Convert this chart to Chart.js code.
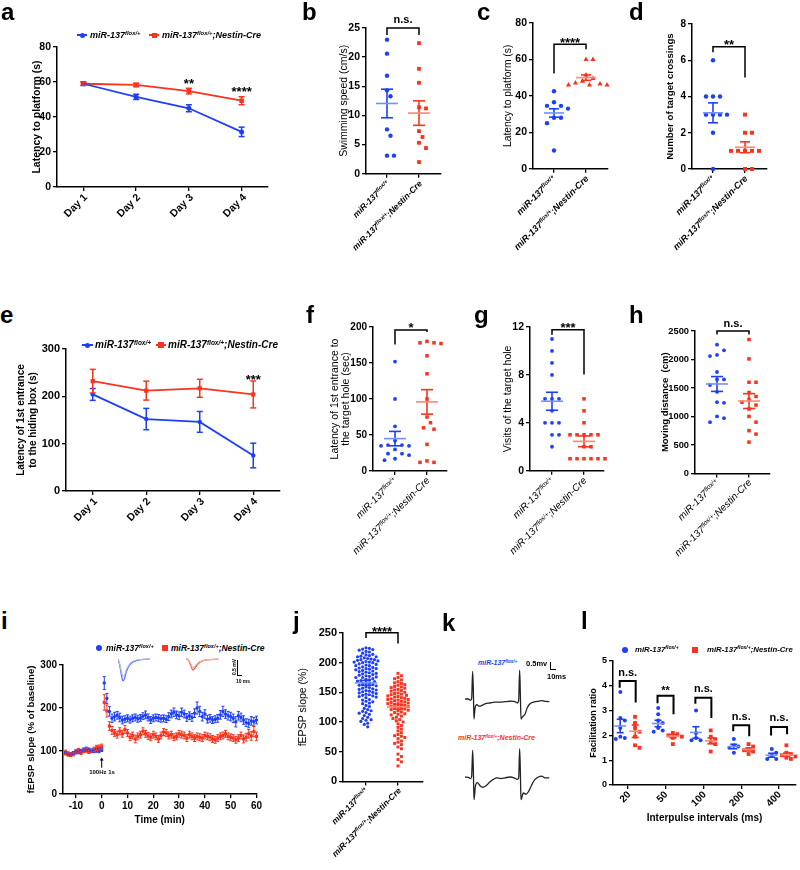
<!DOCTYPE html>
<html>
<head>
<meta charset="utf-8">
<script src="https://cdn.jsdelivr.net/npm/chart.js@4.4.1/dist/chart.umd.min.js"></script>
<style>
html,body{margin:0;padding:0;background:#fff}
body{position:relative;width:800px;height:870px;overflow:hidden;font-family:"Liberation Sans",Arial,sans-serif;color:#000}
canvas{position:absolute}
.t{position:absolute;white-space:nowrap;line-height:1}
.rot{position:absolute;white-space:nowrap;transform:rotate(-45deg);transform-origin:100% 50%}
.bx{position:absolute}
sup{font-size:65%;vertical-align:baseline;position:relative;top:-0.5em;line-height:0}
</style>
</head>
<body>
<script>
const BLUE = '#1e3ff7', BLUE_M = '#7390ff', RED = '#f7341f', RED_M = '#ff8775';
const FONT = '"Liberation Sans", Arial, sans-serif';

// ---------- data ----------
const groupNames = ['miR-137^flox/+^', 'miR-137^flox/+^;Nestin-Cre'];
const days = ['Day 1', 'Day 2', 'Day 3', 'Day 4'];

// a: latency to platform
const aCtrl = [59, 51.5, 45, 31.5];
const aCtrlSem = [1, 1.5, 2, 2.7];
const aCre = [59, 58.3, 54.8, 49.3];
const aCreSem = [0.8, 1, 1.6, 2.3];

// b: swimming speed
const bCtrl = [23, 20.6, 16.8, 14.3, 13.3, 7.6, 6.5, 3.1, 3.1];
const bCre = [22.4, 18, 15.6, 11.4, 11.2, 7.3, 6.3, 5.3, 4.4, 2];
const bMean = [12.05, 10.4], bSem = [2.45, 2.1];

// c: probe latency
const cCtrl = [42.5, 36.5, 34.5, 34.5, 33, 28, 28, 25, 10];
const cCre = [60, 60, 51.5, 49.5, 48, 47, 46.5, 46, 46, 46];
const cMean = [30.6, 50], cSem = [2.3, 1.5];

// d: target crossings
const dCtrl = [6, 4, 4, 4, 3, 3, 3, 3, 2, 0];
const dCre = [3, 2, 2, 1, 1, 1, 1, 1, 0, 0];
const dMean = [3.1, 1.2], dSem = [0.55, 0.3];

// e: barnes maze latency
const eCtrl = [204, 152, 146, 75];
const eCtrlSem = [12.5, 22.5, 22, 26];
const eCre = [232, 212, 217, 204];
const eCreSem = [25, 20, 19, 28.5];

// f: latency to target hole
const fCtrl = [152, 100, 62, 42, 36, 36, 35, 35, 30, 24, 24, 22, 17, 15];
const fCre = [180, 178, 177, 178, 160, 135, 100, 75, 67, 60, 58, 37, 14, 12, 12];
const fMean = [45, 96], fSem = [10, 17];

// g: visits of target hole
const gCtrl = [11, 10, 9, 8, 6, 6, 6, 5, 4, 4, 4, 3, 3, 2];
const gCre = [6, 5, 4, 3, 3, 3, 3, 3, 2, 2, 1, 1, 1, 1, 1, 1];
const gMean = [5.8, 2.45], gSem = [0.75, 0.45];

// h: moving distance
const hCtrl = [2260, 2160, 2080, 2060, 1780, 1650, 1650, 1550, 1430, 1250, 1240, 1000, 970, 900];
const hCre = [2350, 2010, 1600, 1600, 1420, 1350, 1300, 1250, 1200, 1130, 1000, 900, 750, 690, 550];
const hMean = [1570, 1270], hSem = [130, 130];

// i: LTP time course
const iTime = [-14,-13,-12,-11,-10,-9,-8,-7,-6,-5,-4,-3,-2,-1,0,
  1,2,3,4,5,6,7,8,9,10,11,12,13,14,15,16,17,18,19,20,21,22,23,24,25,26,27,28,29,30,
  31,32,33,34,35,36,37,38,39,40,41,42,43,44,45,46,47,48,49,50,51,52,53,54,55,56,57,58,59,60];
const iCtrl = [95,94,93,95,97,98,100,103,104,103,101,100,102,101,103,
  258,222,192,176,180,183,178,172,174,176,173,176,178,175,177,181,184,178,172,176,
  178,177,175,176,174,180,186,190,184,182,190,186,178,182,178,188,200,192,180,186,
  174,176,172,174,176,184,192,186,182,180,176,168,182,178,172,166,164,170,168,172];
const iCtrlSem = [4,4,3,4,4,4,4,4,5,4,4,4,5,5,4,
  15,12,11,10,10,9,10,9,8,8,8,8,8,8,8,8,9,8,8,8,
  8,8,8,8,8,9,9,10,9,9,10,9,9,9,9,10,14,12,10,10,
  9,9,8,8,9,10,12,10,10,10,10,12,10,10,10,9,10,10,10,9];
const iCre = [97,92,91,93,99,101,96,100,102,98,100,104,107,108,110,
  213,193,158,148,142,138,146,140,150,142,132,136,128,134,138,146,140,135,132,138,
  134,128,136,144,142,136,138,132,134,140,138,136,130,138,134,130,134,132,130,136,
  134,132,128,126,130,134,136,140,134,132,130,126,130,136,128,132,140,135,145,134];
const iCreSem = [5,4,4,4,5,5,4,4,5,4,4,5,6,6,6,
  18,14,10,9,8,8,8,8,9,8,8,8,9,8,8,8,8,8,8,8,
  8,8,8,8,8,8,8,8,8,8,8,8,8,8,8,8,8,8,8,8,
  8,8,8,8,8,8,8,8,8,8,8,8,8,8,9,9,10,10,12,10];
// i insets: representative fEPSP traces (ms, mV)
const insCtrlT = [0, 3.4, 6.8, 10, 13.4, 16.8, 23.4, 30, 40, 63.4];
const insCtrl = [0, -0.19, -0.51, -0.7, -0.61, -0.4, -0.19, -0.09, -0.03, 0];
const insCtrlPre = [0, -0.15, -0.4, -0.55, -0.5, -0.33, -0.15, -0.07, -0.02, 0];
const insCreT = [0, 4.6, 9.4, 13.4, 18, 24.6, 34.6, 64.6];
const insCre = [0.02, -0.03, -0.19, -0.35, -0.28, -0.14, -0.05, 0];
const insCrePre = [0.02, -0.02, -0.14, -0.27, -0.22, -0.11, -0.04, 0];

// j: fEPSP slope per slice
const jCtrl = [225,223,224,221,222,219,218,216, 214,213,211,212,210,210,
  208,207,206,205,205,204,203,202,201,201,200,200, 198,197,196,195,195,193,192,191,190,190,
  189,188,187,186,185,184,183,182,181,180, 179,178,177,176,175,175,173,172,171,170,
  169,168,166,165,164,163,162,161, 159,158,157,156,155,154,153,152,151,150,
  149,148,147,146,145,144,143,142,141, 138,137,135,134,132,131, 128,126,123,121,
  119,118,116,115,113,111, 108,106,104,103,101, 98,96,92];
const jCre = [182,178,175,173,171, 168,166,165,163,162,160, 159,158,157,155,154,153,152,150,
  149,148,147,146,145,144,143,142,141,140, 139,138,138,137,136,135,134,133,132,131,131,130,
  129,128,127,126,125,124,123,122,121,120, 119,117,116,114,113,112,110, 108,106,104,102,100,
  97,94,91, 88,85,82, 79,77,76,74,72, 68,66,64,62, 58,55, 46,42, 37,33, 26];
const jMean = [166, 125.5], jSem = [4, 4];

// k: paired-pulse traces (ms, mV)
const kCtrlT = [0,3.7,6.4,7.5,8.6,9.4,10.1,11.2,13.1,16.1,19.1,22.5,28.1,33.7,39.3,44.9,48.7,52.4,56.2,58.8,60.3,61.4,62.2,62.9,64.8,67.4,70,73,76.8,81.3,86.1,91,94.7];
const kCtrlV = [0,0,-0.08,0.06,1.73,0.5,-1.25,-0.6,-0.35,-0.45,-0.4,-0.3,-0.25,-0.2,-0.2,-0.17,-0.15,-0.13,-0.17,-0.25,-0.1,1.8,0.3,-1.25,-1.1,-0.95,-0.55,-0.3,-0.2,-0.15,-0.1,-0.15,-0.17];
const kCreT = [0,3.7,6.4,7.5,8.6,9.4,10.1,11.6,13.9,16.9,19.9,23.6,28.1,31.8,35.6,40.1,44.9,50.6,55.1,58.8,60.3,61.4,62.2,62.9,65.5,68.5,71.5,74.9,78.6,82.4,86.1,89.9,94.7];
const kCreV = [0,-0.02,-0.1,0.05,1.67,0.4,-1.42,-0.6,-0.35,-0.55,-0.65,-0.55,-0.3,-0.15,-0.05,-0.1,-0.05,0,-0.05,-0.15,-0.05,1.77,0.3,-1.42,-1.0,-1.08,-0.9,-0.5,-0.15,0,0.05,-0.05,-0.05];

// l: paired-pulse facilitation
const lIntervals = ['20', '50', '100', '200', '400'];
const lCtrl = [[3.75, 2.7, 2.6, 2.3, 1.95, 1.85, 1.9], [3.1, 2.85, 2.6, 2.5, 2.3, 2.2, 2.15],
  [3.0, 2.1, 1.9, 1.8, 1.8], [1.85, 1.6, 1.55, 1.5, 1.3], [1.45, 1.3, 1.2, 1.05, 1.05]];
const lCre = [[2.75, 2.5, 2.3, 2.15, 1.95, 1.6, 1.5], [2.1, 2.05, 2.0, 1.95, 1.9, 1.65],
  [2.2, 1.95, 1.85, 1.75, 1.65, 1.35], [1.65, 1.55, 1.45, 1.4, 1.35, 1.25], [1.6, 1.3, 1.25, 1.2, 1.15, 1.1, 1.05]];
const lCtrlMean = [2.38, 2.48, 2.12, 1.55, 1.2], lCtrlSem = [0.27, 0.13, 0.23, 0.09, 0.08];
const lCreMean = [2.17, 1.97, 1.78, 1.43, 1.22], lCreSem = [0.25, 0.07, 0.12, 0.06, 0.07];
const lSig = ['n.s.', '**', 'n.s.', 'n.s.', 'n.s.'];

// ---------- helpers ----------
Chart.defaults.font.family = FONT;
Chart.defaults.color = '#000';
Chart.defaults.animation = false;
Chart.defaults.responsive = false;
Chart.defaults.devicePixelRatio = 1;
Chart.defaults.events = [];
Chart.defaults.plugins.legend.display = false;
Chart.defaults.plugins.tooltip.enabled = false;

const rich = s => s.replace(/\^([^^]*)\^/g, '<sup>$1</sup>');

function text(html, x, y, font, color, center) {
  const d = document.createElement('div');
  d.className = 't';
  d.innerHTML = rich(html);
  d.style.font = font;
  d.style.lineHeight = '1';
  d.style.left = x + 'px';
  d.style.top = y + 'px';
  d.style.color = color || '#000';
  d.style.transform = center ? 'translate(-50%,-50%)' : 'translate(0,-50%)';
  document.body.appendChild(d);
  return d;
}
function rotText(t, ax, ay, font, color) {
  const d = document.createElement('div');
  d.className = 'rot';
  d.innerHTML = rich(t);
  d.style.font = font;
  d.style.lineHeight = '12px';
  d.style.height = '12px';
  d.style.right = (800 - ax) + 'px';
  d.style.top = (ay - 6) + 'px';
  if (color) d.style.color = color;
  document.body.appendChild(d);
}
function box(x, y, w, h, color) {
  const d = document.createElement('div');
  d.className = 'bx';
  Object.assign(d.style, {left: x + 'px', top: y + 'px', width: w + 'px', height: h + 'px', background: color});
  document.body.appendChild(d);
  return d;
}
function legend(y, items, font) {
  items.forEach(it => {
    if (it.line) box(it.line[0], y - 0.9, it.line[1] - it.line[0], 1.8, it.color);
    const m = box(it.mx - it.size / 2, y - it.size / 2, it.size, it.size, it.color);
    if (it.shape === 'circle') m.style.borderRadius = '50%';
    text(it.text, it.tx, y, font);
  });
}

function seg(ctx, xa, ya, xb, yb) { ctx.beginPath(); ctx.moveTo(xa, ya); ctx.lineTo(xb, yb); ctx.stroke(); }
function errBar(ctx, X, ylo, yhi, cw) {
  seg(ctx, X, ylo, X, yhi); seg(ctx, X - cw, ylo, X + cw, ylo); seg(ctx, X - cw, yhi, X + cw, yhi);
}
function mark(ctx, txt, x, yc, size) {
  ctx.fillStyle = '#000';
  ctx.font = 'bold ' + size + 'px ' + FONT;
  ctx.textAlign = 'center';
  ctx.textBaseline = 'alphabetic';
  ctx.fillText(txt, x, yc + (txt.includes('*') ? 0.58 : 0.27) * size);
}

function axisBase() {
  return {
    border: {color: '#000', width: 1.5},
    grid: {drawOnChartArea: false, offset: false, color: '#000', lineWidth: 1.3, tickLength: 4},
  };
}
function yAxis(min, max, step, size) {
  return Object.assign(axisBase(), {
    type: 'linear', min, max,
    afterBuildTicks: s => { const t = []; for (let v = min; v <= max + 1e-9; v += step) t.push({value: v}); s.ticks = t; },
    ticks: {color: '#000', font: {family: FONT, weight: 'bold', size}, padding: 2, callback: v => String(v)},
  });
}

function mkChart(s) {
  const [x0, x1, y0, y1] = s.box, [ml, mr, mt, mb] = s.m;
  const L = x0 - ml, T = y0 - mt;
  const cv = document.createElement('canvas');
  cv.width = x1 - x0 + ml + mr;
  cv.height = y1 - y0 + mt + mb;
  cv.style.left = L + 'px';
  cv.style.top = T + 'px';
  document.body.appendChild(cv);
  s.x.afterFit = sc => { sc.height = mb; };
  s.y.afterFit = sc => { sc.width = ml; };
  if (s.yTitle) {
    const f = s.yTitle.font;
    s.y.title = {display: true, text: s.yTitle.text, color: '#000', font: f,
      padding: {top: s.yTitle.x - L - f.size * f.lineHeight / 2, bottom: 0}};
  }
  if (s.xTitle) {
    const f = s.xTitle.font;
    s.x.title = {display: true, text: s.xTitle.text, color: '#000', font: f,
      padding: {top: 0, bottom: T + cv.height - s.xTitle.y - f.size * f.lineHeight / 2}};
  }
  const ch = new Chart(cv, {
    type: s.type || 'scatter',
    data: {labels: s.labels, datasets: s.datasets},
    options: {layout: {padding: {left: 0, right: mr, top: mt, bottom: 0}}, scales: {x: s.x, y: s.y}},
    plugins: [{id: 'extra', afterDatasetsDraw: c => { if (s.draw) { c.ctx.save(); s.draw(c, c.ctx); c.ctx.restore(); } }}]
  });
  ch.$L = L; ch.$T = T;
  return ch;
}

// simple beeswarm: spreads equal/near values sideways (pixel units)
function swarm(vals, d, pyu) {
  const order = vals.map((v, i) => i).sort((a, b) => vals[b] - vals[a]);
  const placed = [], off = [];
  order.forEach(i => {
    const py = vals[i] * pyu;
    for (let k = 0; k < 80; k++) {
      const o = (k % 2 ? 1 : -1) * Math.ceil(k / 2) * d / 2;
      if (placed.every(q => Math.hypot(q[0] - o, q[1] - py) >= d * 0.98)) { placed.push([o, py]); off[i] = o; break; }
    }
  });
  return off;
}

function dotPanel(p) {
  const [x0, x1, y0, y1] = p.box;
  const unit = (p.cx[p.cx.length - 1] - p.cx[0]) / (p.cx.length - 1);
  const pyu = (y1 - y0) / (p.y[1] - p.y[0]);
  const datasets = p.groups.map(g => {
    const off = swarm(g.vals, g.d, pyu);
    return {data: g.vals.map((v, i) => ({x: g.cat + ((g.dx || 0) + off[i]) / unit, y: v})),
      pointStyle: g.shape, pointRadius: g.r, backgroundColor: g.color, pointBorderWidth: 0, clip: false};
  });
  const cats = p.cx.map((c, i) => i);
  const ch = mkChart({box: p.box, m: p.m, datasets, yTitle: p.yTitle, xTitle: p.xTitle,
    x: Object.assign(axisBase(), {type: 'linear', min: (x0 - p.cx[0]) / unit, max: (x1 - p.cx[0]) / unit,
      afterBuildTicks: s => { s.ticks = cats.map(v => ({value: v})); }, ticks: {display: false}}),
    y: yAxis(p.y[0], p.y[1], p.y[2], p.tick),
    draw: (c, ctx) => {
      const X = v => c.scales.x.getPixelForValue(v), Y = v => c.scales.y.getPixelForValue(v);
      p.groups.forEach(g => {
        const xc = X(g.cat) + (g.dx || 0);
        ctx.lineWidth = 1.6;
        ctx.strokeStyle = g.color;
        errBar(ctx, xc, Y(g.mean - g.sem), Y(g.mean + g.sem), g.cw);
        ctx.strokeStyle = g.mcolor;
        seg(ctx, xc - g.hw, Y(g.mean), xc + g.hw, Y(g.mean));
      });
      (p.brackets || []).forEach(b => {
        const xa = X(b.ca) + (b.oa || 0), xb = X(b.cb) + (b.ob || 0);
        ctx.strokeStyle = '#000';
        ctx.lineWidth = b.lw || 1.5;
        ctx.beginPath(); ctx.moveTo(xa, Y(b.ya)); ctx.lineTo(xa, Y(b.y)); ctx.lineTo(xb, Y(b.y)); ctx.lineTo(xb, Y(b.yb)); ctx.stroke();
        mark(ctx, b.text, (xa + xb) / 2, Y(b.y) - b.gap, b.size);
      });
    }});
  p.labels.forEach((t, i) => rotText(t, ch.$L + ch.scales.x.getPixelForValue(i) + 1, ch.$T + ch.chartArea.bottom + 8, p.labelFont));
  return ch;
}

function twoGroups(ctrl, cre, mean, sem, o) {
  return [
    {vals: ctrl, cat: 0, color: BLUE, mcolor: BLUE_M, shape: 'circle', r: o.r1, d: o.d, mean: mean[0], sem: sem[0], hw: o.hw, cw: o.cw},
    {vals: cre, cat: 1, color: RED, mcolor: RED_M, shape: o.s2 || 'rect', r: o.r2, d: o.d, mean: mean[1], sem: sem[1], hw: o.hw, cw: o.cw},
  ];
}

function linePanel(p) {
  const ch = mkChart({type: 'line', labels: p.cats, box: p.box, m: p.m, yTitle: p.yTitle,
    x: Object.assign(axisBase(), {type: 'category', offset: true, ticks: {display: false}}),
    y: yAxis(p.y[0], p.y[1], p.y[2], p.tick),
    datasets: p.series.map(s => ({data: s.vals, borderColor: s.color, backgroundColor: s.color, borderWidth: 1.8,
      pointStyle: s.shape, pointRadius: s.r, pointBorderWidth: 0, tension: 0, clip: false})),
    draw: (c, ctx) => {
      const X = v => c.scales.x.getPixelForValue(v), Y = v => c.scales.y.getPixelForValue(v);
      p.series.forEach(s => {
        ctx.strokeStyle = s.color; ctx.lineWidth = 1.5;
        s.vals.forEach((v, i) => errBar(ctx, X(i), Y(v - s.sem[i]), Y(v + s.sem[i]), 3));
      });
      p.stars.forEach(st => mark(ctx, st.text, X(st.i), Y(st.v), 13));
    }});
  p.cats.forEach((t, i) => rotText(t, ch.$L + ch.scales.x.getPixelForValue(i) + 2, ch.$T + ch.chartArea.bottom + 8, p.labelFont));
  return ch;
}

function mkTrace(left, top, w, h, xr, yr, lines) {
  const cv = document.createElement('canvas');
  cv.width = w; cv.height = h;
  cv.style.left = left + 'px'; cv.style.top = top + 'px';
  document.body.appendChild(cv);
  return new Chart(cv, {type: 'scatter',
    data: {datasets: lines.map(d => ({data: d.t.map((t, i) => ({x: t, y: d.v[i]})), showLine: true,
      borderColor: d.color, borderWidth: d.w, pointRadius: 0, cubicInterpolationMode: 'monotone', clip: false}))},
    options: {layout: {padding: 0}, scales: {
      x: {type: 'linear', display: false, min: xr[0], max: xr[1]},
      y: {type: 'linear', display: false, min: yr[0], max: yr[1]}}}});
}

const tf = (size, bold, lh) => ({family: FONT, size, weight: bold ? 'bold' : 'normal', lineHeight: lh || 1.2});

// ---------- panel a ----------
linePanel({box: [57, 268, 47, 187], m: [50, 4, 12, 40], y: [0, 80, 20], tick: 10.5, cats: days,
  yTitle: {text: 'Latency to platform (s)', x: 37, font: tf(10.5, true)},
  series: [{vals: aCtrl, sem: aCtrlSem, color: BLUE, shape: 'circle', r: 2.5},
           {vals: aCre, sem: aCreSem, color: RED, shape: 'rect', r: 3.2}],
  stars: [{text: '**', i: 2, v: 61}, {text: '****', i: 3, v: 56.5}],
  labelFont: 'bold 10.5px ' + FONT});
legend(35, [
  {line: [77, 87], mx: 82, size: 5, shape: 'circle', color: BLUE, tx: 90, text: groupNames[0]},
  {line: [149, 159], mx: 154, size: 5, shape: 'rect', color: RED, tx: 162, text: groupNames[1]}],
  'italic bold 9px ' + FONT);

// ---------- panel b ----------
dotPanel({box: [366, 441, 28, 178], m: [32, 6, 16, 4], y: [0, 25, 5], tick: 10.5, cx: [387, 419],
  yTitle: {text: 'Swimming speed (cm/s)', x: 344, font: tf(10.5, false)},
  groups: twoGroups(bCtrl, bCre, bMean, bSem, {r1: 2.2, r2: 2.7, d: 7, hw: 11, cw: 6}),
  brackets: [{ca: 0, cb: 1, y: 25, ya: 23.8, yb: 23.8, text: 'n.s.', gap: 7.6, size: 11}],
  labels: groupNames, labelFont: 'italic bold 8.6px ' + FONT});

// ---------- panel c ----------
dotPanel({box: [533, 608, 23, 173], m: [30, 6, 14, 4], y: [0, 80, 20], tick: 10.5, cx: [554, 586],
  yTitle: {text: 'Latency to platform (s)', x: 508, font: tf(10.3, false)},
  groups: twoGroups(cCtrl, cCre, cMean, cSem, {r1: 2.2, r2: 3, s2: 'triangle', d: 7, hw: 10, cw: 5}),
  brackets: [{ca: 0, cb: 1, y: 68.3, ya: 52.3, yb: 65.6, text: '****', gap: 4.5, size: 13}],
  labels: groupNames, labelFont: 'italic bold 9.2px ' + FONT});

// ---------- panel d ----------
dotPanel({box: [692, 767, 24, 173], m: [30, 6, 14, 4], y: [0, 8, 2], tick: 10, cx: [713, 745],
  yTitle: {text: 'Number of target crossings', x: 670, font: tf(9.7, true)},
  groups: twoGroups(dCtrl, dCre, dMean, dSem, {r1: 2.2, r2: 2.8, d: 7, hw: 10, cw: 5}),
  brackets: [{ca: 0, cb: 1, y: 6.75, ya: 6.44, yb: 5.05, text: '**', gap: 5, size: 13}],
  labels: groupNames, labelFont: 'italic bold 9.2px ' + FONT});

// ---------- panel e ----------
linePanel({box: [66, 280, 349, 491], m: [56, 4, 10, 45], y: [0, 300, 100], tick: 11, cats: days,
  yTitle: {text: ['Latency of 1st entrance', 'to the hiding box (s)'], x: 21.7, font: tf(10, true, 1.16)},
  series: [{vals: eCtrl, sem: eCtrlSem, color: BLUE, shape: 'circle', r: 2.2},
           {vals: eCre, sem: eCreSem, color: RED, shape: 'rect', r: 3}],
  stars: [{text: '***', i: 3, v: 242}],
  labelFont: 'bold 10.5px ' + FONT});
legend(345, [
  {line: [82, 93], mx: 87, size: 5, shape: 'circle', color: BLUE, tx: 95, text: groupNames[0]},
  {line: [156, 166], mx: 161, size: 5.5, shape: 'rect', color: RED, tx: 168, text: groupNames[1]}],
  'italic bold 10px ' + FONT);

// ---------- panel f ----------
dotPanel({box: [373, 447, 327, 475], m: [44, 6, 12, 4], y: [0, 200, 50], tick: 10, cx: [395, 427],
  yTitle: {text: ['Latency of 1st entrance to', 'the target hole (sec)'], x: 335, font: tf(10.5, false, 1.1)},
  groups: twoGroups(fCtrl, fCre, fMean, fSem, {r1: 1.9, r2: 2.5, d: 7, hw: 11, cw: 6}),
  brackets: [{ca: 0, cb: 1, y: 196, ya: 175.7, yb: 193.2, text: '*', gap: 5, size: 13}],
  labels: groupNames, labelFont: 'italic 10px ' + FONT});

// ---------- panel g ----------
dotPanel({box: [530, 604, 327, 475], m: [32, 6, 12, 4], y: [0, 12, 4], tick: 10.5, cx: [552, 584],
  yTitle: {text: 'Visits of the target hole', x: 508.3, font: tf(10.5, false)},
  groups: twoGroups(gCtrl, gCre, gMean, gSem, {r1: 1.9, r2: 2.5, d: 7, hw: 11, cw: 6}),
  brackets: [{ca: 0, cb: 1, y: 11.76, ya: 11.35, yb: 8.03, text: '***', gap: 5, size: 13}],
  labels: groupNames, labelFont: 'italic 10px ' + FONT});

// ---------- panel h ----------
dotPanel({box: [695, 770, 331, 477], m: [36, 6, 12, 4], y: [0, 2500, 500], tick: 9.3, cx: [717, 749],
  yTitle: {text: 'Moving distance  (cm)', x: 665, font: tf(9.5, true)},
  groups: twoGroups(hCtrl, hCre, hMean, hSem, {r1: 1.9, r2: 2.5, d: 7, hw: 11, cw: 6}),
  brackets: [{ca: 0, cb: 1, y: 2500, ya: 2438, yb: 2438, text: 'n.s.', gap: 7.4, size: 11}],
  labels: groupNames, labelFont: 'italic 10px ' + FONT});

// ---------- panel i ----------
mkChart({box: [63, 260, 665, 794], m: [45, 4, 12, 36],
  x: Object.assign(axisBase(), {type: 'linear', min: -15, max: 60,
    afterBuildTicks: s => { s.ticks = [-10, 0, 10, 20, 30, 40, 50, 60].map(v => ({value: v})); },
    ticks: {color: '#000', font: {family: FONT, weight: 'bold', size: 10}, padding: 2, maxRotation: 0, autoSkip: false, callback: v => String(v)}}),
  y: yAxis(0, 300, 100, 10),
  yTitle: {text: 'fEPSP slope (% of baseline)', x: 31.7, font: tf(9.7, true)},
  xTitle: {text: 'Time (min)', y: 820, font: tf(10, true)},
  datasets: [
    {data: iTime.map((t, k) => ({x: t, y: iCtrl[k]})), pointStyle: 'circle', pointRadius: 1.7, backgroundColor: BLUE, pointBorderWidth: 0, clip: false},
    {data: iTime.map((t, k) => ({x: t, y: iCre[k]})), pointStyle: 'rect', pointRadius: 2.2, backgroundColor: RED, pointBorderWidth: 0, clip: false}],
  draw: (c, ctx) => {
    const X = v => c.scales.x.getPixelForValue(v), Y = v => c.scales.y.getPixelForValue(v);
    ctx.lineWidth = 1;
    [[iCtrl, iCtrlSem, BLUE], [iCre, iCreSem, RED]].forEach(([m, e, col]) => {
      ctx.strokeStyle = col;
      m.forEach((v, k) => errBar(ctx, X(iTime[k]), Y(v - e[k]), Y(v + e[k]), 1.5));
    });
    // tetanus arrow
    const ax = X(0);
    ctx.strokeStyle = '#000'; ctx.fillStyle = '#000'; ctx.lineWidth = 1;
    seg(ctx, ax, Y(61), ax, Y(82));
    ctx.beginPath(); ctx.moveTo(ax, Y(85)); ctx.lineTo(ax - 2, Y(78)); ctx.lineTo(ax + 2, Y(78)); ctx.closePath(); ctx.fill();
  }});
text('100Hz 1s', 102, 772, 'bold 6px ' + FONT, '#000', true);
legend(648, [
  {mx: 99, size: 6.5, shape: 'circle', color: BLUE, tx: 106, text: groupNames[0]},
  {mx: 165, size: 6.5, shape: 'rect', color: RED, tx: 171, text: groupNames[1]}],
  'italic bold 8.5px ' + FONT);
mkTrace(118, 656, 33, 28, [0, 66], [-0.8, 0.1], [
  {t: insCtrlT, v: insCtrlPre, color: '#b3bde6', w: 1.2}, {t: insCtrlT, v: insCtrl, color: '#4d68ff', w: 1.2}]);
mkTrace(186, 656, 33, 28, [0, 66], [-0.8, 0.1], [
  {t: insCreT, v: insCrePre, color: '#f0b5ab', w: 1.2}, {t: insCreT, v: insCre, color: '#f5472f', w: 1.2}]);
box(237, 660, 1, 16, '#000');
box(237, 675, 5, 1, '#000');
const mv = text('0.5 mV', 233.5, 667, 'bold 5px ' + FONT, '#000', true);
mv.style.transform = 'translate(-50%,-50%) rotate(-90deg)';
text('10 ms', 243, 681, 'bold 5px ' + FONT, '#000', true);

// ---------- panel j ----------
dotPanel({box: [343, 423, 633, 786], m: [50, 6, 16, 4], y: [0, 250, 50], tick: 11, cx: [366, 398],
  yTitle: {text: 'fEPSP slope (%)', x: 303.3, font: tf(10.5, false)},
  groups: twoGroups(jCtrl, jCre, jMean, jSem, {r1: 1.6, r2: 2.1, d: 3.4, hw: 11, cw: 5}),
  brackets: [{ca: 0, cb: 1, y: 250.5, ya: 241.4, yb: 232.5, text: '****', gap: 4.3, size: 13}],
  labels: groupNames, labelFont: 'italic bold 8.5px ' + FONT});

// ---------- panel k ----------
text(groupNames[0], 478, 662, 'italic bold 7px ' + FONT, BLUE);
text(groupNames[1], 458, 737, 'italic bold 7px ' + FONT, RED);
text('0.5mv', 526, 664, 'bold 7.5px ' + FONT);
text('10ms', 547, 677, 'bold 7.5px ' + FONT);
box(550, 662, 1.3, 8, '#000');
box(550, 669, 6, 1.3, '#000');
mkTrace(465, 667, 85, 64, [0, 95.5], [-2, 2], [{t: kCtrlT, v: kCtrlV, color: '#222', w: 1.3}]);
mkTrace(465, 745, 85, 64, [0, 95.5], [-2, 2], [{t: kCreT, v: kCreV, color: '#222', w: 1.3}]);

// ---------- panel l ----------
const lTop = [4.19, 3.6, 3.52, 2.41, 2.34], lLeft = [3.92, 3.3, 3.28, 2.17, 2.0], lRight = [3.33, 2.85, 2.7, 1.97, 2.05];
dotPanel({box: [613, 800, 661, 785], m: [28, 0, 14, 42], y: [0, 5, 1], tick: 9, cx: [628, 667, 705.5, 744, 782.7],
  yTitle: {text: 'Facilitation ratio', x: 593.3, font: tf(9, true)},
  xTitle: {text: 'Interpulse intervals (ms)', y: 818, font: tf(10, true)},
  groups: lCtrl.map((vals, i) => ({vals, cat: i, dx: -7.5, color: BLUE, mcolor: BLUE_M, shape: 'circle', r: 2, d: 4.6,
      mean: lCtrlMean[i], sem: lCtrlSem[i], hw: 6, cw: 3.5}))
    .concat(lCre.map((vals, i) => ({vals, cat: i, dx: 7.5, color: RED, mcolor: RED_M, shape: 'rect', r: 2.7, d: 4.6,
      mean: lCreMean[i], sem: lCreSem[i], hw: 6, cw: 3.5}))),
  brackets: lSig.map((t, i) => ({ca: i, oa: -8, cb: i, ob: 8, y: lTop[i], ya: lLeft[i], yb: lRight[i], text: t, gap: 8.5, size: 11, lw: 2})),
  labels: lIntervals, labelFont: 'bold 10px ' + FONT});
legend(650, [
  {mx: 625, size: 6.5, shape: 'circle', color: BLUE, tx: 635, text: groupNames[0]},
  {mx: 695, size: 6.5, shape: 'rect', color: RED, tx: 707, text: groupNames[1]}],
  'italic bold 7.8px ' + FONT);

// ---------- panel letters ----------
[['a', 1, 12], ['b', 302, 12], ['c', 477, 12], ['d', 629, 12],
 ['e', 0, 315], ['f', 306, 315], ['g', 474, 315], ['h', 629, 315],
 ['i', 1, 621], ['j', 293, 621], ['k', 442, 623], ['l', 581, 621]]
  .forEach(([t, x, y]) => text(t, x, y, 'bold 24px ' + FONT));
</script>
</body>
</html>
